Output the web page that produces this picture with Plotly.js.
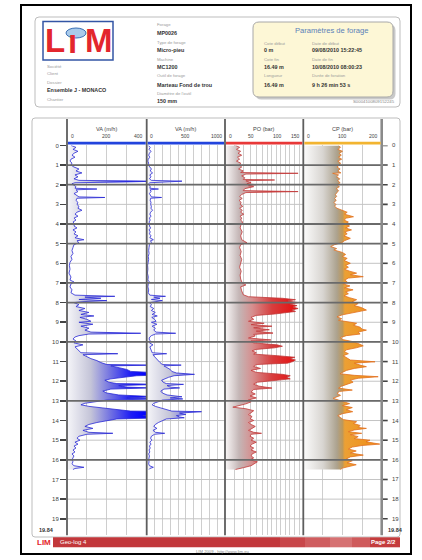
<!DOCTYPE html>
<html><head><meta charset="utf-8">
<script src="https://cdn.plot.ly/plotly-3.0.1.min.js"></script>
<style>html,body{margin:0;padding:0;background:#fff;}#chart{width:422px;height:560px;}</style>
</head><body><div id="chart"></div>
<script>
// ---------- DATA ----------
const vaDepth = [0.00,0.10,0.20,0.30,0.40,0.50,0.60,0.70,0.80,0.90,1.00,1.10,1.20,1.30,1.40,1.50,1.60,1.70,1.78,1.82,1.86,1.90,1.95,2.00,2.10,2.18,2.22,2.26,2.35,2.45,2.55,2.62,2.65,2.69,2.80,2.90,3.00,3.10,3.20,3.30,3.40,3.50,3.60,3.70,3.80,3.90,4.00,4.10,4.20,4.30,4.40,4.50,4.60,4.70,4.80,4.85,4.95,5.05,5.20,5.35,5.50,5.65,5.80,5.95,6.10,6.30,6.50,6.70,6.85,6.95,7.05,7.20,7.35,7.50,7.62,7.68,7.72,7.78,7.84,7.90,7.95,8.00,8.10,8.20,8.30,8.40,8.50,8.60,8.68,8.75,8.85,8.95,9.00,9.10,9.20,9.30,9.40,9.50,9.56,9.60,9.68,9.75,9.85,9.95,10.05,10.15,10.25,10.35,10.45,10.55,10.60,10.65,10.75,10.85,10.95,11.05,11.15,11.18,11.22,11.30,11.40,11.50,11.58,11.65,11.72,11.80,11.88,11.95,12.05,12.12,12.16,12.22,12.30,12.34,12.40,12.50,12.60,12.70,12.79,12.85,12.90,12.96,13.04,13.12,13.20,13.28,13.36,13.45,13.52,13.55,13.62,13.69,13.75,13.82,13.86,13.92,14.00,14.10,14.20,14.30,14.40,14.50,14.60,14.65,14.70,14.80,14.90,15.00,15.10,15.20,15.30,15.40,15.50,15.60,15.70,15.80,15.90,16.00,16.10,16.20,16.30,16.38,16.44,16.49];
const vaValue = [20,45,30,55,35,25,40,20,15,25,20,35,60,45,75,40,55,35,60,450,300,40,25,30,45,40,150,45,55,35,50,60,190,50,45,55,50,60,55,75,50,40,55,35,45,30,40,35,50,30,45,35,55,40,85,50,60,35,30,25,30,20,25,15,12,15,10,20,15,35,20,15,25,20,40,240,90,170,60,200,80,35,60,45,90,60,110,70,135,65,100,120,60,130,70,110,90,120,370,110,60,40,30,45,35,80,40,50,60,70,255,80,100,120,150,170,200,440,220,250,300,320,380,610,350,280,220,190,210,250,470,260,300,420,220,180,200,260,450,300,460,200,150,90,70,110,180,250,320,700,420,500,380,420,480,250,200,150,110,90,130,80,110,230,100,60,50,65,40,55,35,45,30,40,25,35,30,25,30,25,35,85,40,30];

const poDepth = [0.00,0.10,0.20,0.30,0.40,0.50,0.60,0.70,0.80,0.90,1.00,1.10,1.20,1.30,1.38,1.42,1.46,1.55,1.65,1.73,1.76,1.80,1.90,1.95,2.00,2.05,2.10,2.20,2.30,2.35,2.40,2.50,2.60,2.70,2.80,2.90,3.00,3.10,3.20,3.30,3.40,3.50,3.60,3.70,3.80,3.90,4.00,4.20,4.40,4.60,4.80,4.95,5.05,5.20,5.40,5.60,5.80,6.00,6.20,6.40,6.60,6.80,7.00,7.10,7.20,7.40,7.60,7.70,7.78,7.85,7.92,8.00,8.08,8.15,8.22,8.30,8.38,8.45,8.52,8.58,8.65,8.75,8.85,8.95,9.05,9.12,9.20,9.28,9.38,9.45,9.55,9.62,9.70,9.80,9.90,9.95,10.05,10.15,10.22,10.30,10.38,10.45,10.55,10.62,10.70,10.78,10.85,10.92,11.00,11.08,11.15,11.25,11.35,11.45,11.55,11.65,11.72,11.80,11.88,11.95,12.05,12.15,12.25,12.35,12.42,12.55,12.65,12.75,12.85,12.95,13.05,13.15,13.25,13.32,13.40,13.50,13.60,13.70,13.80,13.90,14.00,14.10,14.20,14.30,14.40,14.50,14.60,14.65,14.70,14.80,14.90,15.00,15.10,15.20,15.30,15.40,15.50,15.60,15.70,15.80,15.90,16.00,16.10,16.20,16.30,16.40,16.49];
const poValue = [20,28,22,30,25,32,24,28,22,30,28,32,26,35,30,140,40,32,38,35,95,40,50,42,60,45,55,38,35,140,40,32,28,33,27,31,29,34,28,33,30,36,29,32,30,34,31,29,33,30,32,42,30,28,31,29,32,30,28,31,29,30,33,40,30,32,35,45,110,135,120,140,125,138,130,140,128,135,115,95,60,50,55,45,75,50,90,55,85,60,92,55,58,45,88,50,55,100,110,95,60,52,60,55,100,134,125,135,130,120,60,55,68,50,60,110,125,118,125,100,62,55,65,90,55,50,58,48,60,45,50,40,25,15,40,55,50,45,52,48,55,45,50,58,52,45,55,70,50,48,55,50,60,52,48,55,50,60,52,50,55,48,62,55,50,35,20];

const cpDepth = [0.00,0.10,0.20,0.30,0.40,0.50,0.60,0.70,0.80,0.90,1.00,1.10,1.20,1.30,1.40,1.42,1.50,1.60,1.70,1.80,1.90,2.00,2.10,2.20,2.30,2.40,2.50,2.60,2.70,2.80,2.90,3.00,3.10,3.20,3.30,3.40,3.50,3.63,3.70,3.80,3.90,4.00,4.10,4.20,4.30,4.40,4.50,4.60,4.73,4.85,4.95,5.05,5.15,5.25,5.32,5.45,5.55,5.65,5.75,5.85,6.00,6.10,6.20,6.30,6.40,6.50,6.58,6.68,6.75,6.85,6.95,7.05,7.15,7.25,7.35,7.45,7.55,7.65,7.75,7.85,7.95,8.05,8.15,8.25,8.38,8.45,8.52,8.62,8.72,8.82,8.90,8.98,9.05,9.15,9.25,9.35,9.40,9.50,9.60,9.68,9.78,9.88,9.98,10.08,10.20,10.30,10.40,10.50,10.60,10.70,10.80,10.92,11.01,11.08,11.18,11.26,11.35,11.45,11.55,11.62,11.70,11.77,11.85,11.94,12.05,12.15,12.25,12.35,12.45,12.52,12.62,12.72,12.80,12.87,12.96,13.04,13.14,13.24,13.34,13.45,13.55,13.65,13.75,13.85,13.95,14.06,14.15,14.25,14.35,14.40,14.48,14.57,14.65,14.72,14.82,14.92,15.00,15.08,15.15,15.20,15.27,15.35,15.45,15.55,15.65,15.76,15.85,15.95,16.05,16.15,16.25,16.35,16.42,16.49];
const cpValue = [90,95,88,100,92,97,90,98,88,95,92,86,94,88,96,75,90,85,93,88,94,86,92,84,90,86,82,85,80,84,78,83,80,86,100,112,105,128,110,104,115,106,118,108,123,106,112,104,120,105,98,80,70,85,78,100,108,100,112,104,120,108,115,105,118,136,120,153,115,106,112,102,119,105,127,108,115,104,118,136,125,140,130,148,161,140,120,100,86,98,90,120,136,128,145,150,161,140,145,110,95,100,125,140,153,135,110,105,115,102,112,120,183,130,145,161,130,110,100,94,130,191,140,120,127,112,98,90,125,92,86,95,85,76,90,105,118,100,125,110,126,100,88,95,102,136,128,145,140,161,130,115,149,120,140,130,170,160,190,195,150,125,115,135,120,153,120,110,125,112,135,118,100,95];

const trackTitles = ["VA (m/h)", "VA (m/h)", "PO (bar)", "CP (bar)"];
const trackTickLabels = [[0,200,400],[0,500,1000],[0,50,100,150],[0,100,200]];
const trackRanges = [[0,400],[0,1000],[0,150],[0,200]];
const rodChangeDepths = [1,2,4,5,7,8,10,13,16];
const depthTicks = [0,1,2,3,4,5,6,7,8,9,10,11,12,13,14,15,16,17,18,19];
const maxDepth = 19.84;

// ---------- LAYOUT HELPERS ----------
const W = 422, H = 560;
const X = v => v / W, Y = v => 1 - v / H;
const font = "Liberation Sans, Arial, sans-serif";
const trackEdges = [67, 146.7, 225, 303.3, 381.7];
const yTop = 145.4, yBot = 535.3;

function rr(x0,y0,x1,y1,r){
  return `M${X(x0+r)},${Y(y0)} L${X(x1-r)},${Y(y0)} Q${X(x1)},${Y(y0)} ${X(x1)},${Y(y0+r)} L${X(x1)},${Y(y1-r)} Q${X(x1)},${Y(y1)} ${X(x1-r)},${Y(y1)} L${X(x0+r)},${Y(y1)} Q${X(x0)},${Y(y1)} ${X(x0)},${Y(y1-r)} L${X(x0)},${Y(y0+r)} Q${X(x0)},${Y(y0)} ${X(x0+r)},${Y(y0)} Z`;
}
const shapes = [];
const annotations = [];
function rect(x0,y0,x1,y1,fill,line,lw,layer){
  shapes.push({type:'rect',xref:'paper',yref:'paper',x0:X(x0),x1:X(x1),y0:Y(y1),y1:Y(y0),
    fillcolor:fill||'rgba(0,0,0,0)',line:{color:line||'rgba(0,0,0,0)',width:lw||0},layer:layer||'above'});
}
function pathShape(p,fill,line,lw,layer){
  shapes.push({type:'path',xref:'paper',yref:'paper',path:p,fillcolor:fill||'rgba(0,0,0,0)',
    line:{color:line||'rgba(0,0,0,0)',width:lw||0},layer:layer||'above'});
}
function txt(t,x,y,o){
  o=o||{};
  annotations.push({text:t,xref:'paper',yref:'paper',x:X(x),y:Y(y),
    xanchor:o.xa||'left',yanchor:'middle',showarrow:false,
    font:{family:o.family||font,size:o.size||5,color:o.color||'#333',weight:o.bold?'bold':'normal'}});
}

// ---------- PAGE FRAME & HEADER ----------
rect(21,5,411,554,null,'#000',2);
pathShape(rr(35,17,400,107,4),'#fff','#bdbdbd',1,'below');
rect(43,21.5,113,60,'#fff','#3355a5',1.5);
txt('L',55,41,{xa:'center',size:33,bold:true,color:'#e3262d'});
txt('ı',72.5,42,{xa:'center',size:33,bold:true,color:'#e3262d'});
txt('M',99,41,{xa:'center',size:33,bold:true,color:'#e3262d'});
shapes.push({type:'circle',xref:'paper',yref:'paper',x0:X(66),x1:X(86),y0:Y(38),y1:Y(28),fillcolor:'#a9cbeb',line:{color:'#3a6fb5',width:1}});
const lab = {size:4.3,color:'#9a9a9a'}, val = {size:5.4,color:'#333',bold:true};
txt('Société',45,66,lab);
txt('Client',45,73.5,lab);
txt('Dossier',45,82,lab);
txt('Ensemble J - MONACO',45,90.5,val);
txt('Chantier',45,99,lab);
txt('Forage',155,25,lab); txt('MP0026',155,32.7,val);
txt('Type de forage',155,42.7,lab); txt('Micro-pieu',155,50,val);
txt('Machine',155,59.3,lab); txt('MC1200',155,67.3,val);
txt('Outil de forage',155,76,lab); txt('Marteau Fond de trou',155,85,val);
txt('Diamètre de l\'outil',155,93.3,lab); txt('150 mm',155,100.7,val);
pathShape(rr(255.5,24.5,395.5,99.5,6),'#c9c9c9',null,0,'below');
pathShape(rr(253,22,393,97,6),'#fdf7d6','#a8a8a8',1,'below');
txt('Paramètres de forage',331,30.7,{xa:'center',size:7.6,color:'#5a7fb8'});
txt('Cote début',261.7,43.3,lab); txt('Date de début',310,43.3,lab);
txt('0 m',261.7,50,val); txt('09/08/2010 15:22:45',310,50,val);
txt('Cote fin',261.7,59.3,lab); txt('Date de fin',310,59.3,lab);
txt('16.49 m',261.7,67.3,val); txt('10/08/2010 08:00:23',310,67.3,val);
txt('Longueur',261.7,76,lab); txt('Durée de foration',310,76,lab);
txt('16.49 m',261.7,85,val); txt('9 h 26 min 53 s',310,85,val);
txt('S0004100809152245',397,101.5,{xa:'right',size:4.3,color:'#888'});

// ---------- LOG FRAME ----------
pathShape(rr(32,118,400,537,3),'#fff','#bdbdbd',1,'below');
for(const d of depthTicks){ if(d===0) continue;
  shapes.push({type:'line',xref:'paper',yref:'y',x0:X(trackEdges[0]),x1:X(trackEdges[4]),y0:d,y1:d,line:{color:'#c4c4c4',width:1},layer:'below'});
}
for(const d of rodChangeDepths){
  shapes.push({type:'line',xref:'paper',yref:'y',x0:X(trackEdges[0]),x1:X(trackEdges[4]),y0:d,y1:d,line:{color:'#6a6a6a',width:1.8},layer:'above'});
}
// right-hand depth scale (ticks + labels placed on the depth axis)
for(const d of depthTicks){
  shapes.push({type:'line',xref:'paper',yref:'y',x0:X(trackEdges[4]),x1:X(trackEdges[4]+6),y0:d,y1:d,line:{color:'#444',width:1.6},layer:'above'});
  annotations.push({text:String(d),xref:'paper',yref:'y',x:X(trackEdges[4]+8),y:d,xanchor:'left',yanchor:'middle',showarrow:false,font:{family:font,size:6,color:'#444'}});
}
trackEdges.forEach((e,i)=>{
  shapes.push({type:'line',xref:'paper',yref:'paper',x0:X(e),x1:X(e),y0:Y(119),y1:Y(yBot),
    line:{color:i===4?'#8a8a8a':'#5e5e5e',width:i===4?2.6:1.8},layer:'above'});
});
const barColors = ['#2244dd','#2244dd','#e83838','#f2b430'];
barColors.forEach((c,i)=>rect(trackEdges[i]+1,141.8,trackEdges[i+1]-1,144.4,c,null,0));
const axNames = ['x','x2','x3','x4'];
trackTitles.forEach((t,i)=>{
  txt(t,(trackEdges[i]+trackEdges[i+1])/2,129,{xa:'center',size:5.6,color:'#444'});
  const tl = trackTickLabels[i];
  tl.forEach((v,j)=>{
    const xa = j===0?'left':(j===tl.length-1?'right':'center');
    annotations.push({text:String(v),xref:axNames[i],yref:'paper',x:v,y:Y(135.5),xanchor:xa,yanchor:'middle',
      xshift: j===0?1.5:(j===tl.length-1?-1.5:0),showarrow:false,font:{family:font,size:5,color:'#444'}});
  });
});
annotations.push({text:String(maxDepth),xref:'paper',yref:'y',x:X(56),y:maxDepth,xanchor:'right',yanchor:'bottom',yshift:0.5,showarrow:false,font:{family:font,size:5.5,color:'#333',weight:'bold'}});
annotations.push({text:String(maxDepth),xref:'paper',yref:'y',x:X(386),y:maxDepth,xanchor:'left',yanchor:'bottom',yshift:0.5,showarrow:false,font:{family:font,size:5.5,color:'#333',weight:'bold'}});

// ---------- FOOTER ----------
txt('LIM',43.5,542.5,{xa:'center',size:8,bold:true,color:'#e3262d'});
const footSeg = [[53,280,'#c2373b'],[280,305,'#c8474a'],[305,330,'#cf5d5f'],[330,352,'#d67273'],[352,370,'#cf5b5c'],[370,400,'#c43c3d']];
footSeg.forEach(s=>rect(s[0],537.3,s[1],547.3,s[2],null,0));
txt('Geo-log 4',58,542.3,{size:6,color:'#fff'});
txt('Page 2/2',398,542.3,{xa:'right',size:6,color:'#fff',bold:true});
txt('LIM 2009 - http://www.lim.eu',223,551,{xa:'center',size:4.2,color:'#888'});

// ---------- TRACES ----------
const vaScale = [[0,'rgb(246,246,249)'],[0.3,'rgb(196,196,216)'],[0.55,'rgb(112,112,226)'],[0.8,'rgb(30,30,245)'],[1,'rgb(0,0,255)']];
const poScale = [[0,'rgb(250,248,248)'],[0.18,'rgb(196,182,182)'],[0.35,'rgb(214,142,142)'],[0.6,'rgb(215,62,62)'],[1,'rgb(235,0,0)']];
const cpScale = [[0,'rgb(252,252,252)'],[0.25,'rgb(216,213,209)'],[0.43,'rgb(172,162,142)'],[0.5,'rgb(188,152,92)'],[0.53,'rgb(236,160,52)'],[1,'rgb(240,140,20)']];
function logTrace(xv,yv,ax,scale,stop,lineColor){
  return {x:xv,y:yv,xaxis:ax,yaxis:'y',type:'scatter',mode:'lines',fill:'tozerox',
    fillcolor:'rgba(150,150,200,0.5)',
    fillgradient:{type:'horizontal',colorscale:scale,start:0,stop:stop},
    line:{color:lineColor,width:0.8},hoverinfo:'skip',showlegend:false};
}
const traces = [
  logTrace(vaValue,vaDepth,'x',vaScale,400,'#2a2ad6'),
  logTrace(vaValue,vaDepth,'x2',vaScale,1000,'#2a2ad6'),
  logTrace(poValue,poDepth,'x3',poScale,150,'#c23a3a'),
  logTrace(cpValue,cpDepth,'x4',cpScale,200,'#e2701e')
];

function xAx(i,gridVals){
  return {domain:[X(trackEdges[i]),X(trackEdges[i+1])],range:trackRanges[i],anchor:'y',
    tickmode:'array',tickvals:gridVals,showticklabels:false,ticks:'',showgrid:true,
    gridcolor:'#c2c2c2',gridwidth:0.8,zeroline:false,showline:false,fixedrange:true};
}
const layout = {
  width:W,height:H,margin:{l:0,r:0,t:0,b:0},paper_bgcolor:'#fff',plot_bgcolor:'#fff',
  xaxis:xAx(0,[100,200,300]),
  xaxis2:xAx(1,[100,200,300,400,500,600,700,800,900]),
  xaxis3:xAx(2,[19,35,48,61,71,81,90,99,107,115,124,133,142]),
  xaxis4:xAx(3,[50,100,150]),
  yaxis:{range:[maxDepth,0],autorange:false,domain:[Y(yBot),Y(yTop)],tickmode:'array',tickvals:depthTicks,
    ticks:'outside',ticklen:6,tickwidth:1.6,tickcolor:'#444',color:'#444',showgrid:false,zeroline:false,showline:false,
    tickfont:{family:font,size:6,color:'#444'},fixedrange:true,anchor:'x',side:'left'},
  shapes:shapes,annotations:annotations,showlegend:false
};
Plotly.newPlot('chart',traces,layout,{staticPlot:true,displayModeBar:false});
</script></body></html>
